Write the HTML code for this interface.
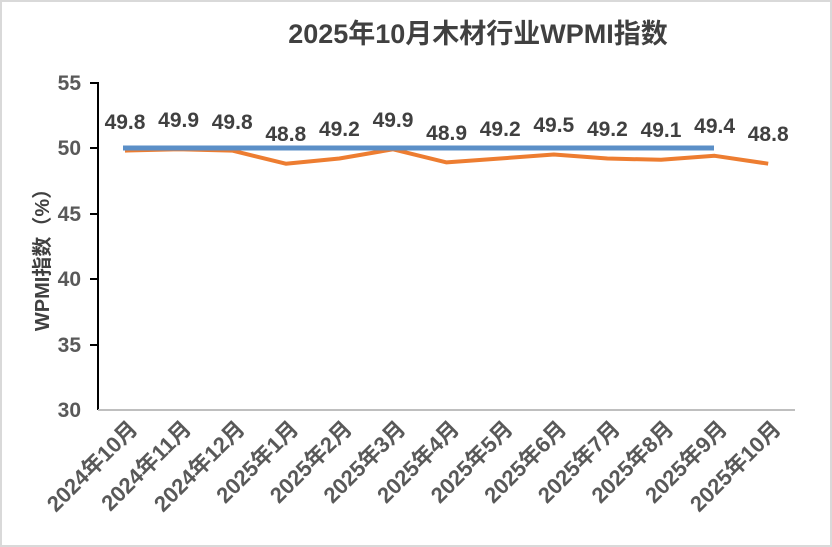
<!DOCTYPE html>
<html><head><meta charset="utf-8"><style>
body{margin:0;background:#fff}
svg{display:block}
text{font-family:"Liberation Sans","Noto Sans CJK SC",sans-serif;font-weight:bold}
</style></head><body>
<svg width="832" height="547" viewBox="0 0 832 547">
<rect x="1" y="1" width="830" height="545" fill="#fff" stroke="#d9d9d9" stroke-width="2"/>
<text x="478" y="43" text-anchor="middle" font-size="27" fill="#404040">2025年10月木材行业WPMI指数</text>
<g font-size="21" fill="#595959" text-anchor="end">
<text x="81" y="90">55</text><text x="81" y="155">50</text><text x="81" y="221">45</text>
<text x="81" y="286">40</text><text x="81" y="352">35</text><text x="81" y="417">30</text>
</g>
<g stroke="#000" stroke-width="2">
<line x1="98" y1="82" x2="98" y2="410"/>
<line x1="90" y1="83" x2="98" y2="83"/><line x1="90" y1="148" x2="98" y2="148"/>
<line x1="90" y1="214" x2="98" y2="214"/><line x1="90" y1="279" x2="98" y2="279"/>
<line x1="90" y1="345" x2="98" y2="345"/>
</g>
<line x1="98" y1="410" x2="795" y2="410" stroke="#bfbfbf" stroke-width="2"/>
<text transform="translate(49,255) rotate(-90)" text-anchor="middle" font-size="20" fill="#404040">WPMI指数（%）</text>
<polyline fill="none" stroke="#ed7d31" stroke-width="4" stroke-linejoin="round" points="125,150.6 178.6,149.3 232.2,150.6 285.8,163.7 339.4,158.5 393,149.3 446.6,162.4 500.2,158.5 553.8,154.5 607.4,158.5 661,159.8 714.6,155.8 768.2,163.7"/>
<line x1="123" y1="148" x2="714" y2="148" stroke="#5b8fc7" stroke-width="5"/>
<g font-size="21" fill="#404040" text-anchor="middle">
<text x="125" y="129">49.8</text><text x="178.6" y="127">49.9</text><text x="232.2" y="129">49.8</text>
<text x="285.8" y="141">48.8</text><text x="339.4" y="136">49.2</text><text x="393" y="127">49.9</text>
<text x="446.6" y="140">48.9</text><text x="500.2" y="136">49.2</text><text x="553.8" y="132">49.5</text>
<text x="607.4" y="136">49.2</text><text x="661" y="137">49.1</text><text x="714.6" y="133">49.4</text>
<text x="768.2" y="141">48.8</text>
</g>
<g font-size="22" fill="#595959" text-anchor="end">
<text transform="translate(139,430) rotate(-45)">2024年10月</text>
<text transform="translate(192.6,430) rotate(-45)">2024年11月</text>
<text transform="translate(246.2,430) rotate(-45)">2024年12月</text>
<text transform="translate(299.8,430) rotate(-45)">2025年1月</text>
<text transform="translate(353.4,430) rotate(-45)">2025年2月</text>
<text transform="translate(407,430) rotate(-45)">2025年3月</text>
<text transform="translate(460.6,430) rotate(-45)">2025年4月</text>
<text transform="translate(514.2,430) rotate(-45)">2025年5月</text>
<text transform="translate(567.8,430) rotate(-45)">2025年6月</text>
<text transform="translate(621.4,430) rotate(-45)">2025年7月</text>
<text transform="translate(675,430) rotate(-45)">2025年8月</text>
<text transform="translate(728.6,430) rotate(-45)">2025年9月</text>
<text transform="translate(782.2,430) rotate(-45)">2025年10月</text>
</g>
</svg>
</body></html>
